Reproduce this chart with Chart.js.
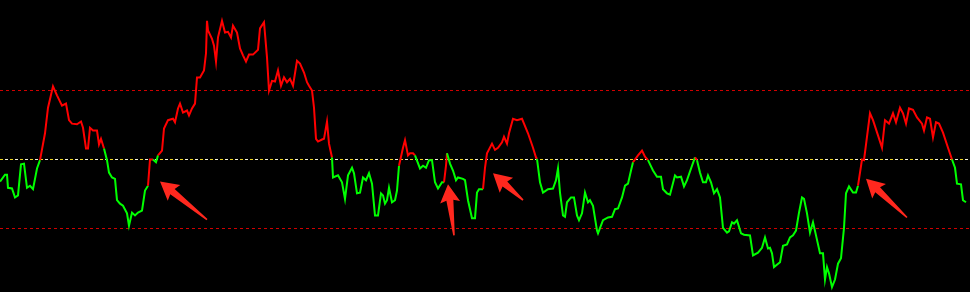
<!DOCTYPE html>
<html>
<head>
<meta charset="utf-8">
<style>
  html, body { margin: 0; padding: 0; background: #000; }
  #wrap { width: 970px; height: 292px; }
</style>
<script src="https://cdn.jsdelivr.net/npm/chart.js@4.4.1/dist/chart.umd.min.js"></script>
</head>
<body>
<div id="wrap"><canvas id="myChart" width="970" height="292"></canvas></div>
<script>
// bar positions and oscillator values
const bars = [0,5,7,8,12,15,18,21,24,27,30,33,37,40,45,48,53,57,62,66,
  69,72,77,81,83,86,88,90,93,97,99,101,104,107,109,112,115,117,120,123,
  127,129,132,135,138,142,145,148,150,153,156,158,162,164,168,173,175,178,180,183,
  187,189,192,195,197,200,204,206,207,208,212,214,216,218,222,225,228,231,233,237,
  240,243,246,249,253,258,260,264,267,269,272,275,278,281,284,287,290,293,297,300,
  304,307,309,312,314,316,318,322,324,327,329,332,333,338,342,345,348,352,354,357,
  360,363,366,369,372,375,378,381,383,385,387,389,392,395,397,399,403,405,408,410,
  413,415,420,423,426,429,432,435,438,442,444,446,447,450,453,456,458,463,465,468,
  472,475,477,479,483,485,487,492,495,498,502,504,507,509,513,517,522,524,528,533,
  536,537,540,543,548,553,556,558,560,563,565,567,571,574,577,579,582,585,588,590,
  593,597,598,603,608,612,615,618,622,625,628,631,633,638,642,645,648,653,657,661,
  663,667,670,675,677,681,684,687,692,695,697,700,703,706,708,711,714,717,720,723,
  727,729,732,734,737,741,744,750,753,758,762,765,768,770,772,774,780,783,787,790,
  793,796,799,802,804,807,810,813,816,820,823,825,827,829,832,835,838,841,844,846,
  849,853,856,858,862,864,870,873,878,882,885,889,893,896,900,903,906,909,913,917,
  922,924,927,930,933,936,939,943,948,952,955,957,961,963,966]
const values = [-32,-22,-22,-41,-42,-55,-52,-7,-6,-41,-38,-43,-13,-1,38,75,106,93,78,81,
  57,52,51,55,46,16,16,46,42,42,22,30,16,-1,-19,-26,-28,-59,-64,-67,
  -78,-96,-77,-81,-77,-74,-45,-38,0,0,-4,6,13,45,57,59,54,74,81,68,
  71,64,74,81,119,119,129,154,201,187,175,165,142,177,201,184,185,177,194,184,
  161,151,142,152,152,159,190,199,148,100,114,113,129,107,119,112,117,107,143,139,
  126,112,107,100,75,30,26,29,30,55,23,3,-26,-23,-33,-57,-23,-12,-20,-49,
  -48,-26,-30,-20,-35,-81,-81,-49,-52,-64,-59,-41,-62,-59,-45,-9,17,28,6,9,
  9,6,-13,-9,-12,-1,-1,-33,-42,-33,-33,-9,9,-6,-16,-30,-26,-28,-30,-59,
  -85,-85,-48,-43,-43,-12,9,23,14,17,25,33,23,38,59,57,59,52,38,17,
  3,1,-33,-48,-43,-42,-30,-13,-48,-81,-83,-62,-55,-55,-81,-88,-78,-48,-62,-59,
  -67,-103,-107,-88,-84,-83,-72,-71,-55,-38,-35,-16,-4,6,13,4,-1,-16,-25,-25,
  -43,-49,-51,-23,-26,-25,-39,-30,-9,3,-1,-19,-33,-33,-23,-33,-49,-43,-55,-99,
  -106,-104,-91,-93,-88,-107,-109,-110,-139,-135,-128,-113,-129,-128,-136,-156,-149,-125,-123,-113,
  -110,-103,-77,-55,-57,-78,-106,-91,-110,-136,-136,-174,-156,-165,-185,-174,-151,-143,-99,-49,
  -39,-48,-48,-38,0,-1,67,57,35,17,57,52,67,54,75,67,52,74,72,61,
  52,42,61,59,32,54,52,39,17,0,-12,-35,-36,-59,-62]
// stretches (by bar) where the trend is up -> drawn red
const upRanges = [[40,104],[148,153],[158,332],[399,415],[444,447],[483,537],[633,648],[695,697],[858,952]]
const levels = [100, -100]
const midLevel = 0
// arrow annotations: [tipBar, tipValue, tailBar, tailValue]
const arrows = [[160,-32,207,-87],[448,-36,454,-110],[493,-20,523,-59],[866,-28,907,-84]]

const isUp = x => upRanges.some(r => x >= r[0] && x < r[1])

const arrowPlugin = {
    id: 'arrows',
    afterDatasetsDraw(chart) {
        const c = chart.ctx
        const sx = chart.scales.x, sy = chart.scales.y
        c.save()
        c.fillStyle = 'rgb(255,40,30)'
        arrows.forEach(a => {
            const tx = sx.getPixelForValue(a[0]), ty = sy.getPixelForValue(a[1])
            const bx = sx.getPixelForValue(a[2]), by = sy.getPixelForValue(a[3])
            const len = Math.hypot(tx - bx, ty - by)
            const dx = (tx - bx) / len, dy = (ty - by) / len
            const nx = -dy, ny = dx
            const head = 16, hw = 10, sw = 3.5
            const hx = tx - dx * head, hy = ty - dy * head
            c.beginPath()
            c.moveTo(bx + nx * 0.8, by + ny * 0.8)
            c.lineTo(hx + nx * sw, hy + ny * sw)
            c.lineTo(hx + nx * hw - dx * 2, hy + ny * hw - dy * 2)
            c.lineTo(tx, ty)
            c.lineTo(hx - nx * hw - dx * 2, hy - ny * hw - dy * 2)
            c.lineTo(hx - nx * sw, hy - ny * sw)
            c.lineTo(bx - nx * 0.8, by - ny * 0.8)
            c.closePath()
            c.fill()
        })
        c.restore()
    }
}

const flat = l => [{x: 0, y: l}, {x: 970, y: l}]
const levelSets = levels.map(l => ({
    data: flat(l),
    borderColor: '#d00000',
    borderWidth: 1,
    borderDash: [3, 3],
    pointRadius: 0,
    order: 2
}))
// middle line: yellow and white dashes alternating
levelSets.push({
    data: flat(midLevel), borderColor: '#f2d81c', borderWidth: 1,
    borderDash: [3, 7], borderDashOffset: 0, pointRadius: 0, order: 2
}, {
    data: flat(midLevel), borderColor: '#f0f0e0', borderWidth: 1,
    borderDash: [3, 7], borderDashOffset: 5, pointRadius: 0, order: 2
})

const ctx = document.getElementById('myChart').getContext('2d')
const myChart = new Chart(ctx, {
    type: 'line',
    data: {
        datasets: [{
            data: bars.map((b, i) => ({x: b, y: values[i]})),
            borderWidth: 2,
            borderColor: '#00ff00',
            pointRadius: 0,
            tension: 0,
            order: 1,
            segment: {
                borderColor: s => isUp(s.p0.parsed.x) ? '#ff0000' : '#00ff00'
            }
        }, ...levelSets]
    },
    options: {
        responsive: false,
        animation: false,
        layout: { padding: 0 },
        plugins: { legend: { display: false }, tooltip: { enabled: false } },
        scales: {
            x: { type: 'linear', min: 0, max: 970, display: false },
            y: { min: -192.03, max: 231.16, display: false }
        }
    },
    plugins: [arrowPlugin]
})
</script>
</body>
</html>
